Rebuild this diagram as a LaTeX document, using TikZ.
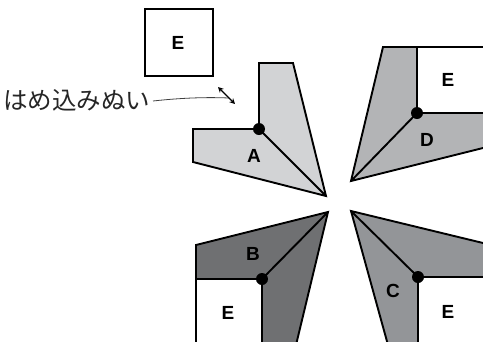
\documentclass[tikz,border=0pt]{standalone}
\usepackage{fontspec}
\setmainfont{Liberation Sans}
\newfontfamily\jpfont{Noto Sans CJK JP}
\usetikzlibrary{arrows.meta}
\definecolor{cA}{HTML}{D2D3D5}
\definecolor{cD}{HTML}{B3B4B6}
\definecolor{cB}{HTML}{6F7072}
\definecolor{cC}{HTML}{939598}
\begin{document}
\begin{tikzpicture}[x=1pt,y=-1pt,
  piece/.style={draw=black, line width=1.9pt, line join=miter},
  seam/.style={draw=black, line width=2.4pt},
  dotnode/.style={circle, fill=black, inner sep=0pt, minimum size=12pt},
  lbl/.style={font=\bfseries\fontsize{19}{19}\selectfont, inner sep=0pt}]
\useasboundingbox (0,0) rectangle (483,341);
\begin{scope}
\clip (0,0) rectangle (483,341);
% top square E
\draw[line width=1.9pt] (145,9) rectangle (213,76);
\node[lbl] (e0) at (178,43) {E};
% label
\node[font=\jpfont\fontsize{24.5}{25}\selectfont, inner sep=0pt, text=black!85] (txt) at (77,100) {はめ込みぬい};
\coordinate (l1) at (153,101);
\coordinate (l2) at (229,98);
\draw[line width=0.8pt, black!75] (l1) .. controls (180,98) and (205,97) .. (l2);
\coordinate (a1) at (218,87);
\coordinate (a2) at (235,104);
\draw[line width=1.4pt, {Stealth[length=5.5pt,width=5.5pt]}-{Stealth[length=5.5pt,width=5.5pt]}] (a1) -- (a2);
% piece A
\coordinate (Atl) at (259,63);
\coordinate (Atr) at (293,63);
\coordinate (Aap) at (326,196);
\coordinate (Abl) at (193,162);
\coordinate (Alt) at (193,129);
\coordinate (Adot) at (259,129);
\filldraw[piece, fill=cA] (Atl) -- (Atr) -- (Aap) -- (Abl) -- (Alt) -- (Adot) -- cycle;
\draw[seam] (Atl) -- (Adot) -- (Alt);
\draw[piece] (Adot) -- (Aap);
\node[dotnode] (dA) at (Adot) {};
\node[lbl] (lA) at (254,156) {A};
% piece D
\coordinate (Dap) at (351,181);
\coordinate (Dtl) at (383,47);
\coordinate (Dtr) at (490,47);
\coordinate (Dbr) at (490,146.25);
\coordinate (Ddot) at (417,113);
\fill[cD] (Dap) -- (Dtl) -- (Dtr) -- (Dbr) -- cycle;
\fill[white] (417,47) rectangle (490,113);
\draw[piece] (Dbr) -- (Dap) -- (Dtl) -- (Dtr);
\draw[seam] (417,47) -- (Ddot) -- (490,113);
\draw[piece] (Ddot) -- (Dap);
\node[dotnode] (dD) at (Ddot) {};
\node[lbl] (lD) at (427,140) {D};
\node[lbl] (eD) at (448,80) {E};
% piece B
\coordinate (Bap) at (328,212);
\coordinate (Btl) at (196,245);
\coordinate (Bbl) at (196,345);
\coordinate (Bbr) at (296,345);
\coordinate (Bdot) at (262,279);
\fill[cB] (Bap) -- (Btl) -- (Bbl) -- (Bbr) -- cycle;
\fill[white] (196,279) rectangle (262,345);
\draw[piece] (Bbr) -- (Bap) -- (Btl) -- (Bbl);
\draw[seam] (196,279) -- (Bdot) -- (262,345);
\draw[piece] (Bdot) -- (Bap);
\node[dotnode] (dB) at (Bdot) {};
\node[lbl] (lB) at (253,254) {B};
\node[lbl] (eB) at (228,313) {E};
% piece C
\coordinate (Cap) at (351,211);
\coordinate (Ctr) at (490,244.7);
\coordinate (Cbr) at (490,345);
\coordinate (Cbl) at (388,345);
\coordinate (Cdot) at (418,277);
\fill[cC] (Cap) -- (Ctr) -- (Cbr) -- (Cbl) -- cycle;
\fill[white] (418,277) rectangle (490,345);
\draw[piece] (Ctr) -- (Cap) -- (Cbl);
\draw[seam] (490,277) -- (Cdot) -- (418,345);
\draw[piece] (Cdot) -- (Cap);
\node[dotnode] (dC) at (Cdot) {};
\node[lbl] (lC) at (393,291) {C};
\node[lbl] (eC) at (448,312) {E};
\end{scope}
\end{tikzpicture}
\end{document}
